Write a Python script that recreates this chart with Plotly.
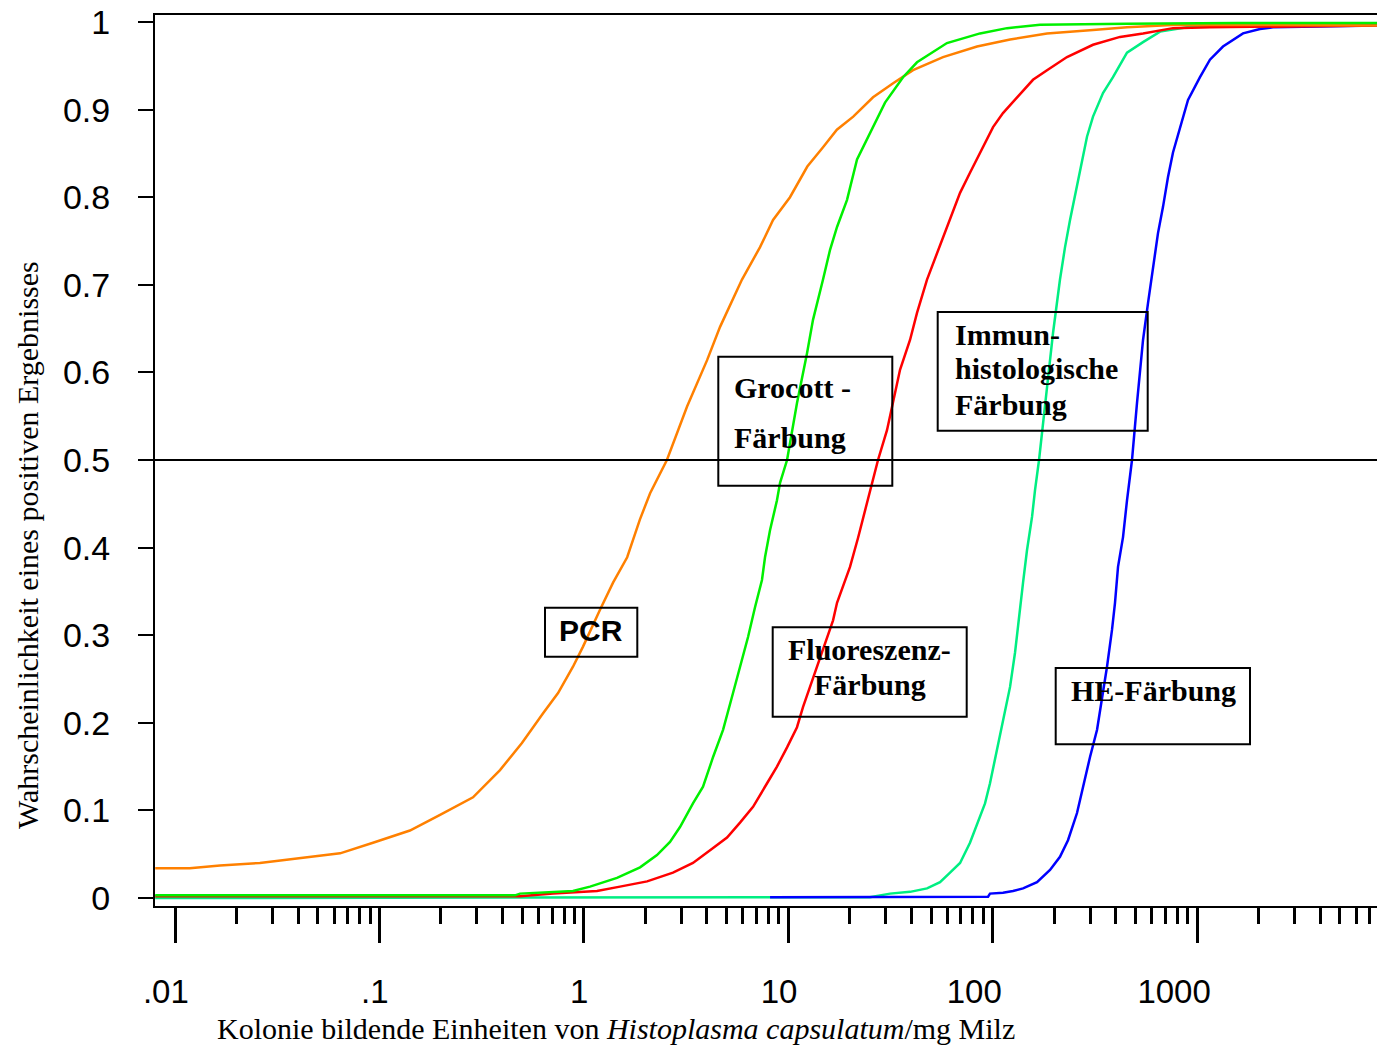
import plotly.graph_objects as go

# ---------------- data ----------------
pcr_x = [0.008, 0.0118, 0.0166, 0.026, 0.0423, 0.0642, 0.093, 0.141, 0.198, 0.287, 0.389, 0.498,
         0.632, 0.748, 0.885, 0.991, 1.20, 1.39, 1.63, 1.88, 2.11, 2.55, 3.20, 4.01, 4.64, 5.94,
         7.28, 8.43, 10.2, 12.4, 14.8, 17.3, 20.8, 26.0, 32.6, 40.8, 57.2, 83.9, 121.7, 184.6,
         310, 454.5, 798, 7600]
pcr_p = [0.034, 0.034, 0.037, 0.040, 0.046, 0.051, 0.063, 0.077, 0.095, 0.115, 0.146, 0.177,
         0.211, 0.234, 0.264, 0.287, 0.329, 0.360, 0.389, 0.432, 0.462, 0.500, 0.561, 0.614, 0.652, 0.706,
         0.743, 0.774, 0.800, 0.835, 0.857, 0.877, 0.892, 0.914, 0.930, 0.945, 0.960, 0.972, 0.980, 0.987,
         0.991, 0.994, 0.997, 0.996]

grocott_x = [0.008, 0.461, 0.487, 0.739, 0.885, 1.072, 1.453, 1.884, 2.28, 2.64, 2.955, 3.42, 3.83,
             4.29, 4.80, 5.37, 5.94, 6.36, 6.88, 7.44, 7.70, 8.15, 8.81, 9.12, 9.87, 11.04, 12.36,
             13.22, 14.80, 16.02, 17.33, 19.40, 21.71, 25.13, 29.76, 36.45, 42.67, 59.8, 86.8, 117.6,
             170.6, 454, 1570, 7600]
grocott_p = [0.003, 0.003, 0.005, 0.007, 0.008, 0.013, 0.023, 0.035, 0.049, 0.064, 0.081, 0.108, 0.127,
             0.161, 0.192, 0.234, 0.272, 0.298, 0.332, 0.363, 0.389, 0.420, 0.454, 0.474, 0.500, 0.565, 0.622,
             0.660, 0.706, 0.740, 0.766, 0.797, 0.843, 0.874, 0.908, 0.937, 0.954, 0.976, 0.987, 0.993,
             0.997, 0.998, 0.999, 0.999]

fluor_x = [0.008, 0.487, 0.707, 0.885, 1.16, 1.503, 2.04, 2.73, 3.42, 4.29, 5.02, 5.81, 6.73, 7.88,
           8.81, 9.87, 11.04, 11.81, 12.79, 13.83, 15.48, 16.57, 17.33, 18.54, 20.06, 21.95, 23.75,
           25.70, 27.50, 30.43, 32.56, 35.24, 39.44, 42.67, 47.76, 53.46, 59.8, 69.3, 77.5, 89.8,
           100.5, 112.4, 131.6, 157.6, 184.6, 231.2, 309.9, 420.1, 544.4, 763.0, 1157, 7600]
fluor_p = [0.002, 0.002, 0.005, 0.006, 0.008, 0.013, 0.019, 0.029, 0.040, 0.057, 0.069, 0.086, 0.104, 0.131,
           0.150, 0.172, 0.195, 0.218, 0.241, 0.264, 0.295, 0.317, 0.337, 0.355, 0.378, 0.411, 0.443,
           0.472, 0.500, 0.534, 0.565, 0.603, 0.637, 0.668, 0.706, 0.736, 0.766, 0.805, 0.828, 0.857,
           0.880, 0.896, 0.914, 0.934, 0.945, 0.960, 0.974, 0.983, 0.987, 0.993, 0.994, 0.996]

immun_x = [0.008, 25.1, 31.5, 39.44, 47.76, 55.3, 61.9, 69.3, 77.5, 84.85, 91.8, 97.1, 102.7, 108.7,
           115.0, 121.7, 128.7, 134.7, 140.9, 147.3, 155.9, 161.3, 168.7, 184.6, 197.5, 213.6, 226.1,
           239.2, 258.8, 273.8, 289.6, 309.9, 346.8, 388.1, 454.5, 544.4, 659.2, 893.6, 1402, 3191, 7600]
immun_p = [0.0, 0.001, 0.005, 0.007, 0.011, 0.018, 0.029, 0.040, 0.063, 0.086, 0.108, 0.131, 0.158, 0.184,
           0.215, 0.241, 0.280, 0.317, 0.360, 0.397, 0.435, 0.466, 0.500, 0.583, 0.645, 0.706, 0.743,
           0.774, 0.812, 0.843, 0.869, 0.892, 0.919, 0.937, 0.965, 0.977, 0.989, 0.994, 0.997, 0.998, 0.998]

he_x = [8.15, 95.0, 97.1, 112.4, 125.8, 140.9, 164.9, 190.9, 213.6, 233.8, 258.8, 276.9, 299.6, 324.3,
        343.0, 362.8, 383.8, 397.0, 410.7, 434.5, 454.5, 480.8, 508.6, 544.4, 575.8, 609.1, 644.4,
        681.8, 721.2, 763.0, 825.6, 903.7, 1034, 1157, 1340, 1679, 2033, 2354, 7600]
he_p = [0.001, 0.0015, 0.005, 0.006, 0.008, 0.011, 0.018, 0.032, 0.047, 0.066, 0.097, 0.127, 0.161, 0.192,
        0.226, 0.264, 0.306, 0.337, 0.378, 0.412, 0.454, 0.500, 0.565, 0.637, 0.679, 0.720, 0.759,
        0.789, 0.823, 0.851, 0.880, 0.911, 0.937, 0.957, 0.972, 0.987, 0.992, 0.994, 0.996]

x_major_vals = [0.01, 0.1, 1, 10, 100, 1000]
x_major_text = [".01\u00a0\u00a0", ".1\u00a0", "1\u00a0", "10\u00a0\u00a0", "100\u00a0\u00a0\u00a0\u00a0",
                "1000\u00a0\u00a0\u00a0\u00a0\u00a0"]
x_minor_vals = [m * d for d in [0.01, 0.1, 1, 10, 100, 1000] for m in range(2, 10)]

y_title = "Wahrscheinlichkeit eines positiven Ergebnisses"
x_title = "Kolonie bildende Einheiten von <i>Histoplasma capsulatum</i>/mg Milz"

# ---------------- figure ----------------
W, H = 1377, 1047
L, R, T, B = 155, 0, 15, 141
PW, PH = W - L - R, H - T - B


def px(xp):
    return (xp - L) / PW


def py(yp):
    return (H - B - yp) / PH


fig = go.Figure()
series = [
    (immun_x, immun_p, "#00EE82"),
    (he_x, he_p, "#0000FF"),
    (fluor_x, fluor_p, "#FF0000"),
    (pcr_x, pcr_p, "#FF8000"),
    (grocott_x, grocott_p, "#00F000"),
]
for xs, ys, col in series:
    fig.add_trace(go.Scatter(x=xs, y=ys, mode="lines", line=dict(color=col, width=2.5),
                             hoverinfo="skip"))

sans = "Arial, Liberation Sans, sans-serif"
serif = "Times New Roman, Liberation Serif, serif"

fig.update_layout(
    width=W, height=H,
    margin=dict(l=L, r=R, t=T, b=B),
    paper_bgcolor="white", plot_bgcolor="white",
    showlegend=False,
    xaxis=dict(
        type="log", range=[-2.098, 3.8806],
        showline=True, linecolor="black", linewidth=2, mirror=True,
        showgrid=False, zeroline=False,
        ticks="outside", ticklen=35, tickwidth=2.5, tickcolor="black",
        tickvals=x_major_vals, ticktext=x_major_text,
        tickfont=dict(family=sans, size=33, color="black"),
        ticklabelstandoff=20,
        minor=dict(tickvals=x_minor_vals, ticks="outside", ticklen=16, tickwidth=2.5,
                   tickcolor="black", showgrid=False),
    ),
    yaxis=dict(
        range=[-0.00913, 1.008],
        showline=True, linecolor="black", linewidth=2,
        showgrid=False, zeroline=False,
        ticks="outside", ticklen=15, tickwidth=2, tickcolor="black",
        tick0=0, dtick=0.1,
        tickfont=dict(family=sans, size=34, color="black"),
        ticklabelstandoff=21,
    ),
)

# 50 % reference line
fig.add_shape(type="line", xref="paper", x0=0, x1=1, yref="y", y0=0.5, y1=0.5,
              line=dict(color="black", width=2))

# label boxes (pixel rectangles converted to paper coords)
boxes = [
    (545, 607.7, 637.3, 656.7),
    (718.3, 356.7, 892.3, 485.7),
    (937.7, 312, 1147.7, 430.7),
    (772.7, 627.3, 966.7, 716.7),
    (1055.7, 668, 1250, 744.3),
]
for x0, y0, x1, y1 in boxes:
    fig.add_shape(type="rect", xref="paper", yref="paper",
                  x0=px(x0), x1=px(x1), y0=py(y1), y1=py(y0),
                  line=dict(color="black", width=2), fillcolor="rgba(0,0,0,0)")

labels = [
    ("PCR", 591, 630, "center", sans),
    ("Grocott -", 732.3, 387, "left", serif),
    ("Färbung", 732.3, 438, "left", serif),
    ("Immun-", 953.3, 334, "left", serif),
    ("histologische", 953.3, 369, "left", serif),
    ("Färbung", 953.3, 404, "left", serif),
    ("Fluoreszenz-", 869.5, 649, "center", serif),
    ("Färbung", 869.5, 684, "center", serif),
    ("HE-Färbung", 1153, 690, "center", serif),
]
for txt, xp, yp, anc, fam in labels:
    fig.add_annotation(text="<b>%s</b>" % txt, xref="paper", yref="paper",
                       x=px(xp), y=py(yp), xanchor=anc, yanchor="middle",
                       showarrow=False, font=dict(family=fam, size=30, color="black"))

fig.add_annotation(text=y_title, xref="paper", yref="paper", x=px(27), y=py(545),
                   xanchor="center", yanchor="middle", textangle=-90, showarrow=False,
                   font=dict(family=serif, size=30, color="black"))
fig.add_annotation(text=x_title, xref="paper", yref="paper", x=px(616), y=py(1028),
                   xanchor="center", yanchor="middle", showarrow=False,
                   font=dict(family=serif, size=30, color="black"))

fig.write_html("out.html", config={"displayModeBar": False},
               post_script="document.body.style.margin='0px';")
